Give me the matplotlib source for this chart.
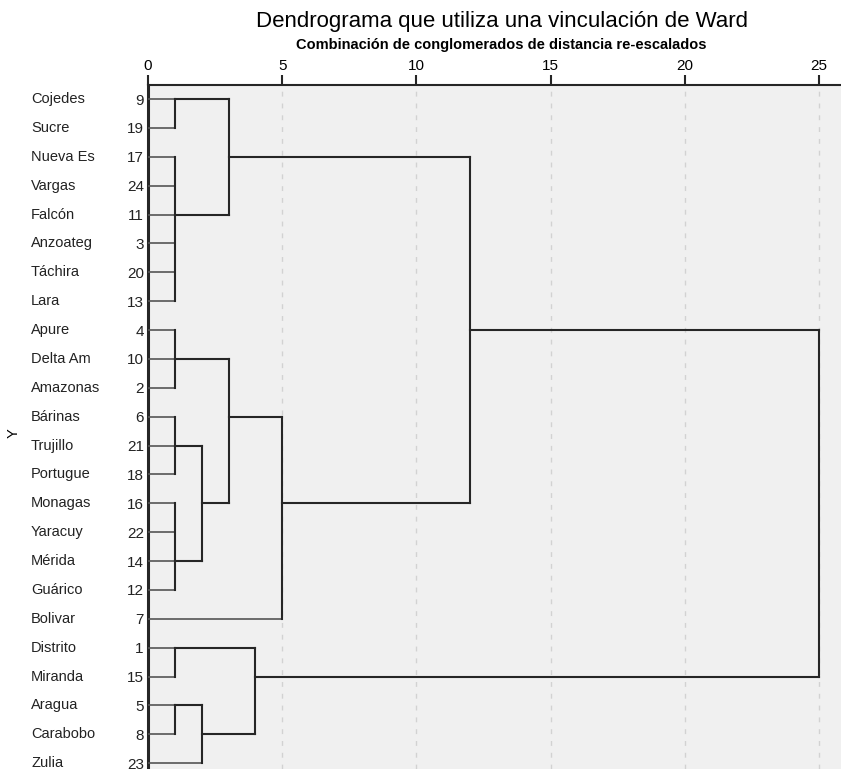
import matplotlib.pyplot as plt
import numpy as np

plt.rcParams['font.family'] = ['Liberation Sans', 'DejaVu Sans']

# casos en el orden del dendrograma
case_names = ["Cojedes", "Sucre", "Nueva Es", "Vargas", "Falcón", "Anzoateg",
              "Táchira", "Lara", "Apure", "Delta Am", "Amazonas", "Bárinas",
              "Trujillo", "Portugue", "Monagas", "Yaracuy", "Mérida", "Guárico",
              "Bolivar", "Distrito", "Miranda", "Aragua", "Carabobo", "Zulia"]
case_ids = [9, 19, 17, 24, 11, 3, 20, 13, 4, 10, 2, 6, 21, 18, 16, 22, 14, 12,
            7, 1, 15, 5, 8, 23]

# conglomerados: distancia re-escalada, caso donde se ancla el enlace, hijos
clusters = ["A1", "A2", "A", "B1", "B2", "B3", "B4", "B5", "B", "AB",
            "C1", "C2", "C3", "C", "root"]
heights = [1, 1, 3, 1, 1, 1, 2, 3, 5, 12, 1, 1, 2, 4, 25]
anchors = [9, 11, 17, 10, 21, 14, 16, 6, 16, 4, 1, 5, 8, 15, None]
children = [[9, 19], [17, 24, 11, 3, 20, 13], ["A1", "A2"],
            [4, 10, 2], [6, 21, 18], [16, 22, 14, 12], ["B2", "B3"],
            ["B1", "B4"], ["B5", 7], ["A", "B"],
            [1, 15], [5, 8], ["C2", 23], ["C1", "C3"], ["AB", "C"]]

x_ticks = [0, 5, 10, 15, 20, 25]

row_of = {c: i for i, c in enumerate(case_ids)}
info = {n: (h, a) for n, h, a in zip(clusters, heights, anchors)}

fig = plt.figure(figsize=(8.41, 7.69), dpi=100)
ax = fig.add_axes([148/841, 0, 1 - 148/841, 1 - 85/769])
ax.set_facecolor('#f0f0f0')

line_col = '#262626'
for x in x_ticks[1:]:
    ax.axvline(x, color='#d2d2d2', lw=1, linestyle=(0, (3.5, 5)), zorder=1)

for name, h, kids in zip(clusters, heights, children):
    rows = []
    for k in kids:
        if isinstance(k, str):
            x0 = info[k][0]
            r = row_of[info[k][1]]
            lw, col = 1.5, line_col
        else:
            x0 = 0
            r = row_of[k]
            lw, col = 1.2, '#555555'
        ax.plot([x0, h], [r, r], color=col, lw=lw, solid_capstyle='projecting', zorder=3)
        rows.append(r)
    ax.plot([h, h], [min(rows), max(rows)], color=line_col, lw=1.5,
            solid_capstyle='projecting', zorder=3)

px = 26.84
ax.set_xlim(0, (841 - 148) / px)
ax.set_ylim(23.2, -0.485)

ax.xaxis.tick_top()
ax.set_xticks(x_ticks)
ax.set_xticklabels([str(v) for v in x_ticks], fontsize=11)
ax.tick_params(axis='x', length=7, width=1.5, color=line_col, pad=2)

ax.set_yticks(range(len(case_ids)))
ax.set_yticklabels([str(c) for c in case_ids], fontsize=11, color='#222222')
ax.tick_params(axis='y', length=0, pad=3)

for s in ['right', 'bottom']:
    ax.spines[s].set_visible(False)
ax.spines['top'].set_linewidth(1.5)
ax.spines['top'].set_color(line_col)
ax.spines['left'].set_linewidth(2.2)
ax.spines['left'].set_color(line_col)

trans = ax.get_yaxis_transform()
for i, n in enumerate(case_names):
    ax.text(-(148 - 31) / 693, i, n, transform=trans, ha='left', va='center',
            fontsize=10.5, color='#222222')

fig.text(14/841, 1 - 433/769, "Y", rotation=90, ha='center', va='center', fontsize=10.5)
fig.text(502/841, 1 - 22/769, "Dendrograma que utiliza una vinculación de Ward",
         ha='center', va='center', fontsize=16)
fig.text(501/841, 1 - 45/769, "Combinación de conglomerados de distancia re-escalados",
         ha='center', va='center', fontsize=10.5, fontweight='bold')

fig.savefig("out.png", dpi=100)
